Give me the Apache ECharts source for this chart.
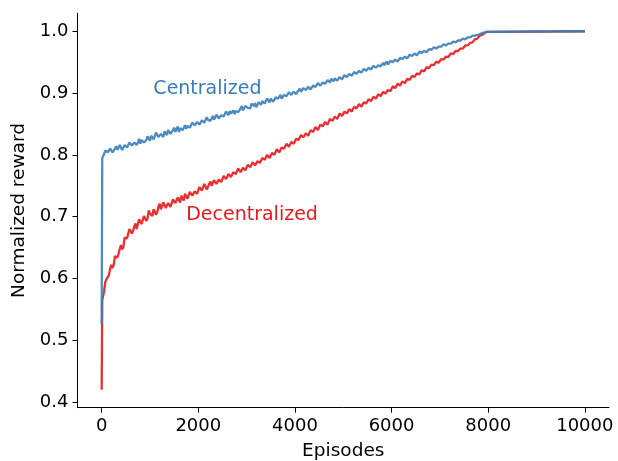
<!DOCTYPE html>
<html>
<head>
<meta charset="utf-8">
<script src="https://cdn.jsdelivr.net/npm/echarts@6/dist/echarts.min.js"></script>
<style>
  html, body { margin: 0; padding: 0; background: #fff; }
  #chart { width: 618px; height: 461px; }
</style>
</head>
<body>
<div id="chart"></div>
<script>
// Training curves: normalized reward per episode for the two training set-ups.

// First samples (the sharp jump right at the start of training)
const startEpisodes = [0, 12];
const centralStart = [0.526, 0.795];
const decentralStart = [0.42, 0.565];

// Regularly sampled part: every 25 episodes from 50 to 8000
const sampleFirst = 50;
const sampleStep = 25;

const centralized = [
  0.801,0.807,0.808,0.804,0.802,0.810,0.809,0.804,0.807,0.810,0.814,0.808,0.807,0.816,0.813,0.808,0.809,0.816,0.817,0.812,
  0.813,0.820,0.819,0.815,0.815,0.820,0.823,0.816,0.820,0.826,0.818,0.824,0.826,0.820,0.823,0.824,0.830,0.829,0.823,0.831,
  0.830,0.825,0.827,0.836,0.833,0.829,0.828,0.834,0.834,0.829,0.838,0.836,0.832,0.840,0.838,0.834,0.836,0.840,0.844,0.837,
  0.839,0.846,0.837,0.843,0.846,0.840,0.844,0.848,0.842,0.847,0.850,0.844,0.846,0.852,0.851,0.848,0.846,0.853,0.854,0.849,
  0.851,0.856,0.859,0.852,0.852,0.861,0.857,0.854,0.855,0.859,0.863,0.857,0.856,0.865,0.863,0.859,0.861,0.864,0.867,0.862,
  0.862,0.870,0.867,0.864,0.871,0.867,0.867,0.872,0.866,0.871,0.874,0.869,0.872,0.875,0.879,0.872,0.872,0.879,0.878,0.876,
  0.875,0.875,0.883,0.881,0.879,0.884,0.877,0.880,0.885,0.882,0.881,0.887,0.890,0.883,0.883,0.891,0.888,0.885,0.891,0.890,
  0.886,0.888,0.893,0.895,0.891,0.894,0.897,0.891,0.892,0.897,0.897,0.895,0.895,0.901,0.901,0.897,0.896,0.902,0.903,0.898,
  0.902,0.904,0.907,0.902,0.902,0.908,0.907,0.905,0.905,0.910,0.911,0.906,0.908,0.912,0.915,0.910,0.909,0.916,0.915,0.912,
  0.912,0.917,0.919,0.915,0.913,0.921,0.919,0.917,0.923,0.921,0.919,0.924,0.924,0.920,0.920,0.926,0.927,0.922,0.924,0.929,
  0.929,0.926,0.925,0.931,0.933,0.928,0.928,0.934,0.933,0.931,0.930,0.936,0.937,0.933,0.934,0.939,0.939,0.936,0.935,0.941,
  0.942,0.938,0.938,0.944,0.943,0.941,0.940,0.945,0.947,0.943,0.945,0.949,0.945,0.946,0.951,0.946,0.947,0.952,0.952,0.950,
  0.950,0.954,0.956,0.951,0.952,0.957,0.957,0.955,0.954,0.959,0.960,0.956,0.958,0.962,0.963,0.960,0.959,0.964,0.964,0.961,
  0.962,0.967,0.967,0.965,0.965,0.968,0.970,0.966,0.967,0.971,0.971,0.970,0.969,0.974,0.975,0.972,0.973,0.975,0.977,0.975,
  0.974,0.979,0.979,0.977,0.978,0.980,0.982,0.980,0.979,0.983,0.984,0.982,0.983,0.985,0.987,0.985,0.985,0.988,0.988,0.987,
  0.988,0.990,0.991,0.990,0.990,0.993,0.993,0.993,0.994,0.994,0.996,0.995,0.995,0.997,0.997,0.998,0.999,0.999,1.000
];

const decentralized = [
  0.579,0.594,0.599,0.598,0.605,0.616,0.622,0.617,0.622,0.636,0.637,0.634,0.640,0.648,0.654,0.647,0.651,0.666,0.666,0.665,
  0.667,0.680,0.680,0.673,0.677,0.684,0.689,0.680,0.681,0.696,0.693,0.688,0.691,0.701,0.704,0.693,0.697,0.710,0.705,0.702,
  0.701,0.712,0.714,0.703,0.707,0.716,0.721,0.712,0.711,0.723,0.719,0.714,0.712,0.722,0.725,0.716,0.719,0.728,0.727,0.722,
  0.720,0.731,0.729,0.723,0.734,0.732,0.726,0.737,0.734,0.729,0.728,0.740,0.741,0.734,0.737,0.741,0.744,0.737,0.739,0.748,
  0.749,0.742,0.742,0.753,0.750,0.744,0.747,0.753,0.757,0.750,0.748,0.759,0.757,0.753,0.756,0.760,0.763,0.756,0.756,0.766,
  0.765,0.761,0.761,0.769,0.771,0.764,0.766,0.772,0.771,0.769,0.767,0.778,0.778,0.772,0.774,0.779,0.781,0.775,0.776,0.784,
  0.785,0.780,0.781,0.788,0.788,0.783,0.782,0.790,0.791,0.787,0.790,0.795,0.797,0.792,0.792,0.800,0.799,0.795,0.797,0.803,
  0.805,0.800,0.801,0.809,0.808,0.804,0.804,0.812,0.814,0.810,0.812,0.818,0.820,0.813,0.815,0.821,0.821,0.818,0.820,0.826,
  0.828,0.824,0.823,0.832,0.831,0.828,0.830,0.835,0.837,0.831,0.833,0.840,0.840,0.837,0.838,0.845,0.845,0.840,0.842,0.849,
  0.851,0.846,0.847,0.853,0.852,0.849,0.851,0.858,0.859,0.855,0.856,0.862,0.864,0.858,0.859,0.867,0.865,0.863,0.865,0.870,
  0.871,0.867,0.867,0.874,0.874,0.870,0.872,0.878,0.880,0.875,0.875,0.882,0.881,0.878,0.880,0.885,0.887,0.883,0.884,0.890,
  0.890,0.887,0.887,0.894,0.896,0.891,0.893,0.898,0.898,0.895,0.895,0.902,0.903,0.899,0.900,0.905,0.905,0.903,0.905,0.911,
  0.912,0.908,0.909,0.915,0.915,0.912,0.912,0.919,0.920,0.916,0.919,0.923,0.924,0.921,0.921,0.928,0.929,0.926,0.928,0.932,
  0.934,0.930,0.932,0.937,0.937,0.935,0.935,0.942,0.943,0.940,0.941,0.946,0.948,0.945,0.946,0.951,0.952,0.949,0.950,0.955,
  0.956,0.954,0.954,0.959,0.959,0.958,0.959,0.964,0.965,0.963,0.964,0.968,0.969,0.968,0.968,0.972,0.973,0.972,0.973,0.977,
  0.979,0.977,0.978,0.981,0.982,0.982,0.982,0.987,0.988,0.988,0.989,0.993,0.994,0.994,0.995,0.997,0.998,0.999,1.000
];

// After convergence both runs stay at the maximum until the last episode
const endEpisodes = [10000];
const centralEnd = [1.0];
const decentralEnd = [1.0];

// Axis ticks
const xTicks = [0, 2000, 4000, 6000, 8000, 10000];
const yTicks = [0.4, 0.5, 0.6, 0.7, 0.8, 0.9, 1.0];

// Curve names and their annotation anchors [episode, reward]
const seriesNames = ['Centralized', 'Decentralized'];
const labelAnchors = [[1070, 0.907], [1750, 0.702]];
const colors = ['#377eb8', '#e41a1c'];

function buildPairs(startVals, sampled, endVals) {
  const pts = [];
  startEpisodes.forEach((ep, i) => pts.push([ep, startVals[i]]));
  sampled.forEach((v, i) => pts.push([sampleFirst + i * sampleStep, v]));
  endEpisodes.forEach((ep, i) => pts.push([ep, endVals[i]]));
  return pts;
}

const centralPts = buildPairs(centralStart, centralized, centralEnd);
const decentralPts = buildPairs(decentralStart, decentralized, decentralEnd);

const FONT = 'DejaVu Sans';
const chart = echarts.init(document.getElementById('chart'), null, { renderer: 'canvas' });

function curve(name, pts, color, anchor, z) {
  return {
    name: name,
    type: 'line',
    data: pts,
    showSymbol: false,
    symbol: 'none',
    z: z,
    lineStyle: { color: color, width: 2.3, opacity: 0.9 },
    emphasis: { disabled: true },
    markPoint: {
      silent: true,
      symbol: 'circle',
      symbolSize: 0,
      data: [{ coord: anchor, value: name }],
      label: {
        show: true,
        position: 'right',
        distance: 0,
        formatter: name,
        color: color,
        fontFamily: FONT,
        fontSize: 19
      }
    }
  };
}

chart.setOption({
  animation: false,
  backgroundColor: '#ffffff',
  grid: { left: 77.5, right: 9, top: 13.3, bottom: 53.3, containLabel: false, outerBoundsMode: 'none' },
  xAxis: {
    type: 'value',
    min: -500,
    max: 10500,
    name: 'Episodes',
    nameLocation: 'middle',
    nameGap: 34,
    nameTextStyle: { fontFamily: FONT, fontSize: 18.5, color: '#000' },
    axisLine: { show: true, onZero: false, lineStyle: { color: '#000', width: 1 } },
    axisTick: { show: true, inside: false, length: 5, customValues: xTicks, lineStyle: { color: '#000' } },
    axisLabel: {
      customValues: xTicks, margin: 10, fontFamily: FONT, fontSize: 18, color: '#000',
      formatter: v => String(v)
    },
    splitLine: { show: false }
  },
  yAxis: {
    type: 'value',
    min: 0.391,
    max: 1.029,
    name: 'Normalized reward',
    nameLocation: 'middle',
    nameGap: 49,
    nameTextStyle: { fontFamily: FONT, fontSize: 18.5, color: '#000' },
    axisLine: { show: true, onZero: false, lineStyle: { color: '#000', width: 1 } },
    axisTick: { show: true, inside: false, length: 5, customValues: yTicks, lineStyle: { color: '#000' } },
    axisLabel: {
      customValues: yTicks, margin: 9, fontFamily: FONT, fontSize: 18, color: '#000',
      formatter: v => v.toFixed(1)
    },
    splitLine: { show: false }
  },
  series: [
    curve(seriesNames[1], decentralPts, colors[1], labelAnchors[1], 2),
    curve(seriesNames[0], centralPts, colors[0], labelAnchors[0], 3)
  ]
});
</script>
</body>
</html>
